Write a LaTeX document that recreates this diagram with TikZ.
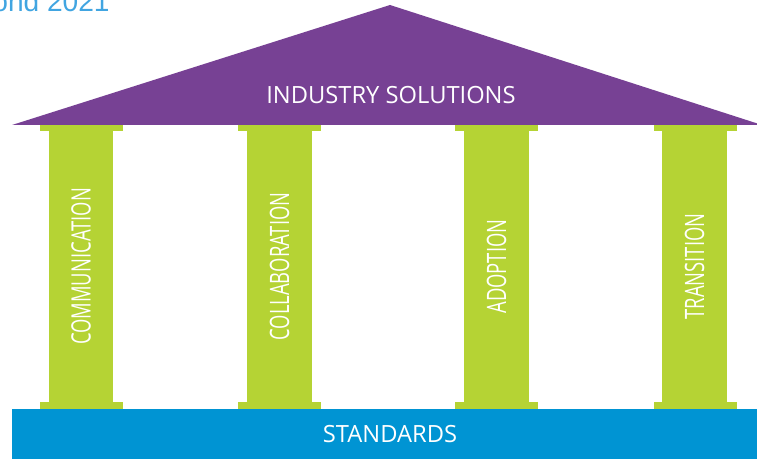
\documentclass[tikz,border=0pt]{standalone}
\usepackage{fontspec}
\setmainfont{Open Sans}
\newfontfamily\narrowfont[FakeStretch=0.69]{Open Sans}
\newfontfamily\titlefont{Liberation Sans}
\definecolor{roof_purple}{RGB}{119, 65, 148}
\definecolor{pillar_green}{RGB}{181, 211, 52}
\definecolor{base_blue}{RGB}{0, 148, 211}
\definecolor{title_blue}{RGB}{65, 165, 225}
\usepackage{tikz}
\usetikzlibrary{positioning}

\begin{document}
\begin{tikzpicture}[x=0.02cm, y=-0.02cm,
          shaft/.style={fill=pillar_green, inner sep=0pt, text=white,
                        font=\narrowfont\fontsize{15.2}{18}\selectfont,
                        minimum width=5.42cm, minimum height=1.3cm},
          capital/.style={fill=pillar_green, inner sep=0pt,
                          minimum width=1.66cm, minimum height=0.13cm},
          lbl/.style={text=white, font=\fontsize{13.5}{16}\selectfont}]
          \useasboundingbox (0, 0) rectangle (757, 459);
          \clip (0, 0) rectangle (757, 459);
          % cut-off heading
          \node[anchor=base east, text=title_blue, inner sep=0pt,
                font=\titlefont\fontsize{16}{19}\selectfont]
            (heading) at (110, 12) {ond 2021};
          % roof
          \fill[roof_purple] (12, 125) -- (390, 5) -- (762, 125) -- cycle;
          \node[lbl] (roof) at (391, 95) {INDUSTRY SOLUTIONS};
          % base
          \node[fill=base_blue, inner sep=0pt, minimum width=15.0cm,
                minimum height=1.1cm, lbl] (base) at (387, 436) {};
          \node[lbl] (std) at (390, 434.5) {STANDARDS};
          % pillars
          \node[shaft, rotate=90] (comm) at (81, 266.5) {COMMUNICATION};
          \node[capital] (commtop) at (81.5, 128) {};
          \node[capital] (commbot) at (81.5, 405.5) {};
          \node[shaft, rotate=90] (collab) at (279.5, 266.5) {COLLABORATION};
          \node[capital] (collabtop) at (279.5, 128) {};
          \node[capital] (collabbot) at (279.5, 405.5) {};
          \node[shaft, rotate=90] (adopt) at (496.5, 266.5) {ADOPTION};
          \node[capital] (adopttop) at (496.5, 128) {};
          \node[capital] (adoptbot) at (496.5, 405.5) {};
          \node[shaft, rotate=90] (trans) at (694.5, 266.5) {TRANSITION};
          \node[capital] (transtop) at (695, 128) {};
          \node[capital] (transbot) at (695, 405.5) {};
        \end{tikzpicture}
\end{document}
